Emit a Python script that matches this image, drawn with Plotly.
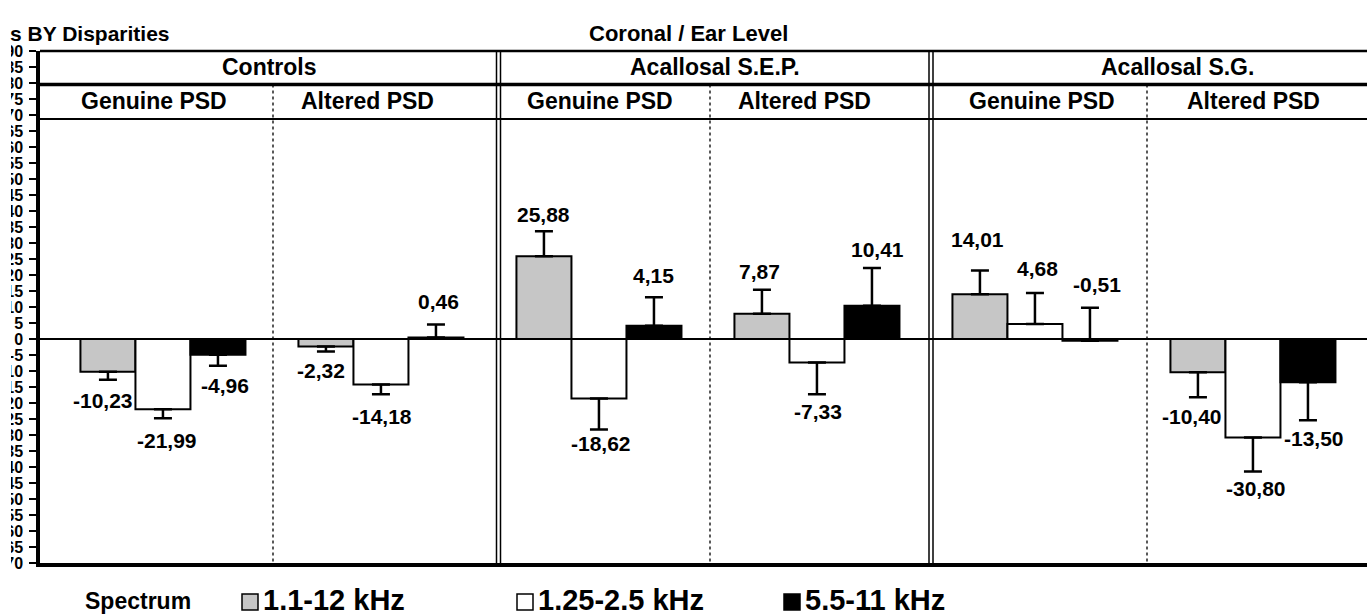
import plotly.graph_objects as go

# ---- data -------------------------------------------------------------
groups = ["Controls", "Acallosal S.E.P.", "Acallosal S.G."]
conditions = ["Genuine PSD", "Altered PSD"] * 3
spectra = ["1.1-12 kHz", "1.25-2.5 kHz", "5.5-11 kHz"]

# mean disparity per condition (one list per spectrum band)
band_low = [-10.23, -2.32, 25.88, 7.87, 14.01, -10.40]
band_mid = [-21.99, -14.18, -18.62, -7.33, 4.68, -30.80]
band_high = [-4.96, 0.46, 4.15, 10.41, -0.51, -13.50]

# one-sided error whiskers (sign gives the drawing direction)
err_low = [-2.5, -1.6, 7.8, 7.5, 7.4, -7.8]
err_mid = [-2.8, -3.1, -9.7, -9.9, 9.7, -10.6]
err_high = [-3.4, 4.1, 8.9, 11.8, 10.3, -11.9]

y_ticks = list(range(-70, 95, 5))

# ---- styling / geometry ----------------------------------------------
W, H = 1367, 616
ML, MR, MT, MB = 40, 0, 51, 53
FONT = "Liberation Sans, Arial, sans-serif"
fills = ["#c6c6c6", "#ffffff", "#000000"]
BAR_GAP = 0.243
BAR_W = (1 - BAR_GAP) / 3
X_RANGE = [-0.564, -0.564 + (W - ML - MR) / 218.0]

# label nudges in pixels (dx, dy below whisker end)
nudges = [
    [(-5, 21), (-5, 19), (0, -17), (-2, -18), (-2, -31), (-6, 19)],
    [(4, 22), (1, 22), (2, 14), (1, 17), (3, -24), (3, 17)],
    [(7, 20), (3, -23), (0, -22), (6, -18), (7, -23), (6, 18)],
]


def px_x(px):
    return (px - ML) / (W - ML - MR)


def px_y(py):
    return (H - MB - py) / (H - MT - MB)


def fmt(v):
    return f"{v:.2f}".replace(".", ",")


series = [band_low, band_mid, band_high]
errors = [err_low, err_mid, err_high]
xs = list(range(len(conditions)))

fig = go.Figure()
for k, (name, vals, errs) in enumerate(zip(spectra, series, errors)):
    fig.add_trace(go.Bar(
        x=xs, y=vals, name=name,
        marker=dict(color=fills[k], line=dict(color="black", width=2)),
        error_y=dict(type="data", symmetric=False,
                     array=[max(e, 0) for e in errs],
                     arrayminus=[max(-e, 0) for e in errs],
                     color="black", thickness=2.5, width=9),
    ))

# value labels at the whisker ends
annotations = []
for k, (vals, errs) in enumerate(zip(series, errors)):
    for i, (v, e) in enumerate(zip(vals, errs)):
        dx, dy = nudges[k][i]
        annotations.append(dict(
            x=i + (k - 1) * BAR_W, y=v + e, xref="x", yref="y",
            text=fmt(v), showarrow=False, xanchor="center", yanchor="middle",
            xshift=dx, yshift=-dy,
            font=dict(family=FONT, size=21, color="black", weight="bold"),
        ))

# header texts
group_edges_px = [40, 498.5, 931, 1423]
for g, name in enumerate(groups):
    cx = (group_edges_px[g] + group_edges_px[g + 1]) / 2
    annotations.append(dict(
        x=px_x(cx), y=px_y(67), xref="paper", yref="paper", text=name,
        showarrow=False, xanchor="center", yanchor="middle",
        font=dict(family=FONT, size=23, color="black", weight="bold")))
cond_shift = [-9, -13, 1, -12, 7, 1]
for i, name in enumerate(conditions):
    annotations.append(dict(
        x=i, y=px_y(101), xref="x", yref="paper", text=name, xshift=cond_shift[i],
        showarrow=False, xanchor="center", yanchor="middle",
        font=dict(family=FONT, size=23, color="black", weight="bold")))

annotations.append(dict(
    x=px_x(688), y=px_y(33), xref="paper", yref="paper", text="Coronal / Ear Level",
    showarrow=False, xanchor="center", yanchor="middle",
    font=dict(family=FONT, size=22, color="black", weight="bold")))
annotations.append(dict(
    x=px_x(8), y=px_y(33), xref="paper", yref="paper", text="s BY Disparities",
    showarrow=False, xanchor="left", yanchor="middle",
    font=dict(family=FONT, size=21, color="black", weight="bold")))

# legend row
annotations.append(dict(
    x=px_x(83), y=px_y(601), xref="paper", yref="paper", text="Spectrum",
    showarrow=False, xanchor="left", yanchor="middle",
    font=dict(family=FONT, size=23, color="black", weight="bold")))
shapes = []
legend_left = [242, 517, 784]
for k, name in enumerate(spectra):
    lx = legend_left[k]
    shapes.append(dict(type="rect", xref="paper", yref="paper",
                       x0=px_x(lx), x1=px_x(lx + 16), y0=px_y(610), y1=px_y(594),
                       fillcolor=fills[k], line=dict(color="black", width=1.5)))
    annotations.append(dict(
        x=px_x(lx + 19), y=px_y(600), xref="paper", yref="paper", text=name,
        showarrow=False, xanchor="left", yanchor="middle",
        font=dict(family=FONT, size=29, color="black", weight="bold")))

# header frame lines
for py, lw in [(51, 2.5), (84.5, 3.5), (119, 2)]:
    shapes.append(dict(type="line", xref="paper", yref="paper",
                       x0=0, x1=1, y0=px_y(py), y1=px_y(py),
                       line=dict(color="black", width=lw)))
# double separators between groups
for px in [496.5, 500.5, 929, 933]:
    shapes.append(dict(type="line", xref="paper", yref="paper",
                       x0=px_x(px), x1=px_x(px), y0=px_y(51), y1=px_y(563),
                       line=dict(color="black", width=1.5)))
# dotted separators between conditions
for px in [273, 710, 1147]:
    shapes.append(dict(type="line", xref="paper", yref="paper",
                       x0=px_x(px), x1=px_x(px), y0=px_y(84.5), y1=px_y(563),
                       line=dict(color="black", width=1.3, dash="dot")))
# left page edge trims the tick numbers
shapes.append(dict(type="rect", xref="paper", yref="paper", layer="above",
                   x0=px_x(-5), x1=px_x(11), y0=px_y(45), y1=px_y(575),
                   fillcolor="white", line=dict(width=0)))

fig.update_layout(
    width=W, height=H,
    margin=dict(l=ML, r=MR, t=MT, b=MB, pad=0, autoexpand=False),
    paper_bgcolor="white", plot_bgcolor="white",
    barmode="group", bargap=BAR_GAP, bargroupgap=0,
    showlegend=False,
    xaxis=dict(range=X_RANGE, showticklabels=False, ticks="", showgrid=False,
               automargin=False,
               zeroline=False, showline=True, linecolor="black", linewidth=3.5),
    yaxis=dict(range=[-70, 90], tickvals=y_ticks, ticktext=[str(t) for t in y_ticks],
               ticks="outside", ticklen=7, tickwidth=1.5, tickcolor="black",
               ticklabelstandoff=3, automargin=False,
               tickfont=dict(family=FONT, size=16, color="black", weight="bold"),
               showgrid=False, zeroline=True, zerolinecolor="black", zerolinewidth=2,
               showline=True, linecolor="black", linewidth=3.5),
    yaxis2=dict(range=[-70, 90], overlaying="y", side="left", tickvals=y_ticks,
                ticks="inside", ticklen=6, tickwidth=1.5, tickcolor="black",
                automargin=False,
                showticklabels=False, showgrid=False, zeroline=False, showline=False),
    annotations=annotations,
    shapes=shapes,
)

fig.write_html("out.html")
